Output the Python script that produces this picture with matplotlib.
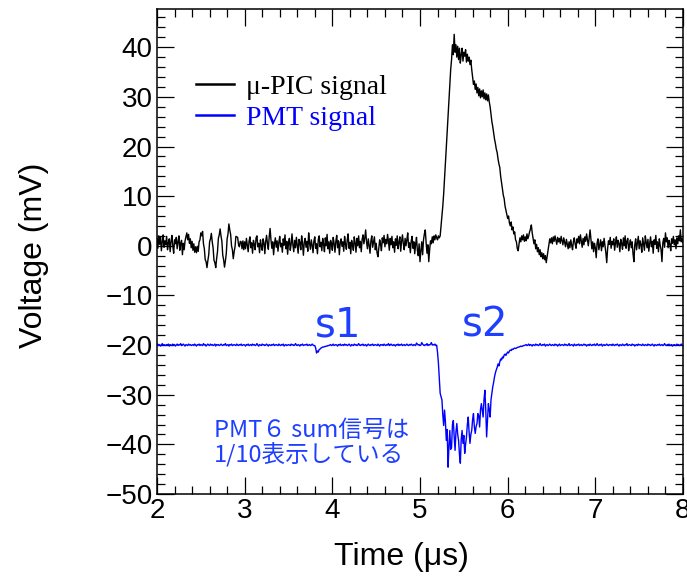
import numpy as np
import matplotlib
matplotlib.use("Agg")
import matplotlib.pyplot as plt
from matplotlib.ticker import MultipleLocator

# ---------------- data (mV), sampled every 0.01 us from 2.00 to 8.00 -------------
mupic_signal = [
    # 2.00-2.29
    1.5, -0.5, 2.0, 0.3, 1.8, -1.0, 0.8, 2.2, -0.3, 1.0,
    0.2, 1.9, -0.8, 0.6, 1.4, -1.2, 0.9, 2.1, 0.0, -1.5,
    1.2, 0.4, 1.7, -0.6, 0.8, 2.0, -0.9, 0.5, 1.1, -1.8,
    # 2.30-2.99
    0.5, -0.8, 1.0, 1.8, 2.6, 1.2, 2.3, 0.5, 1.4, -0.4,
    0.9, -0.9, 0.4, -1.3, -0.2, -1.4, -0.1, -1.1, 0.8, 1.2,
    2.6, 2.0, 2.9, 0.4, -0.6, -2.8, -3.2, -4.4, -3.0, -1.8,
    0.8, 1.4, 2.5, 0.8, -0.4, -2.9, -3.4, -4.4, -2.6, -1.2,
    1.5, 2.2, 3.4, 2.0, 0.9, -1.9, -2.8, -4.3, -3.1, -1.6,
    1.4, 2.4, 4.4, 3.2, 2.3, 0.0, -0.8, -2.6, -1.2, -0.2,
    1.9, 1.8, 1.7, 0.2, -0.2, 0.9, 0.8, -0.6, 1.0, -0.8,
    # 3.00-5.19
    0.8, -0.6, 1.5, 0.2, -1.2, 0.9, 1.8, -0.4, 0.6, -1.5,
    1.1, 0.3, -0.8, 1.6, 2.0, -0.2, 0.5, -1.4, 1.2, 0.0,
    -0.9, 1.4, 0.6, -1.6, 0.9, 2.1, 0.4, -0.7, 1.8, 3.5,
    1.2, -0.5, 0.8, -1.8, 0.4, 1.6, -0.3, 1.0, -1.1, 0.7,
    1.9, -0.2, 0.5, -1.3, 1.4, 0.1, 2.2, -0.6, 0.9, -1.7,
    0.6, 1.5, -0.9, 0.3, 2.4, 0.2, -1.2, 1.1, -0.4, 1.7,
    0.0, -1.5, 1.3, 0.7, -0.8, 2.0, 0.4, -1.9, 0.8, 1.5,
    -0.3, 0.9, -1.1, 2.6, 0.5, -0.7, 1.2, 0.1, -1.4, 1.0,
    1.8, -0.5, 0.4, -1.6, 1.3, 2.0, -0.2, 0.7, -1.0, 1.5,
    0.3, -1.2, 1.6, 0.0, 2.3, -0.6, 0.8, -1.5, 1.1, 0.4,
    -0.9, 1.7, 0.5, -1.3, 0.9, 2.1, -0.4, 1.0, -1.8, 0.6,
    1.4, -0.1, 0.8, -1.1, 1.9, 0.3, -0.7, 1.2, 2.4, -0.5,
    0.7, -1.6, 1.1, 0.2, -0.9, 1.8, 0.6, -1.3, 1.5, 0.0,
    2.0, -0.4, 0.9, -1.2, 1.3, 2.2, 0.4, 1.6, 3.2, 0.8,
    -0.6, 1.4, 0.1, -1.5, 1.0, 2.0, -0.3, 0.7, 1.8, -0.8,
    0.5, -1.4, -2.2, -0.6, 1.2, 0.3, -1.0, 1.6, 0.6, 2.1,
    -0.2, 1.3, 0.4, 2.3, 0.9, -0.9, 1.5, 0.2, 1.9, -0.4,
    0.8, -1.3, 1.4, 0.1, 2.0, -0.6, 0.7, 1.8, -1.1, 0.9,
    2.2, 0.4, -0.8, 1.5, 0.0, 1.2, 2.6, -0.3, 0.6, -1.4,
    1.0, 1.9, -0.5, 0.8, -1.6, 0.3, 1.7, -0.9, -2.0, 0.4,
    -3.2, -1.0, 0.8, -1.8, 1.2, 2.4, 3.2, 0.6, -1.5, 0.2,
    -3.2, -0.8, 1.0, 0.4, 1.8, 0.6, 2.0, 1.2, 2.2, 1.6,
    # 5.20-5.39
    1.2, 2.0, 1.6, 2.0, 4.0, 6.0, 8.0, 10.5, 13.5, 16.5,
    19.8, 23.0, 26.2, 29.5, 32.5, 35.5, 37.5, 40.5, 38.5, 42.6,
    # 5.40-5.99
    39.0, 40.5, 38.0, 40.2, 37.5, 39.8, 36.8, 38.5, 39.8, 37.2,
    39.0, 38.2, 39.5, 37.0, 38.6, 37.2, 38.0, 36.5, 37.4, 35.5,
    34.0, 32.5, 33.2, 31.5, 32.6, 30.8, 31.9, 30.2, 31.6, 29.8,
    31.2, 30.0, 31.4, 29.6, 30.8, 29.4, 30.6, 29.2, 30.4, 29.0,
    28.0, 26.5, 25.0, 24.0, 22.8, 21.5, 20.6, 19.5, 18.8, 17.5,
    16.5, 15.8, 14.0, 12.8, 11.5, 10.2, 9.5, 8.0, 7.2, 6.4,
    # 6.00-6.09
    5.5, 6.0, 4.6, 4.0, 4.8, 3.2, 3.8, 2.4, 2.8, 1.2,
    # 6.10-6.49
    0.8, -0.6, -1.0, 0.4, 1.6, 0.8, 2.0, 1.2, 2.2, 0.9,
    1.8, 1.0, 2.4, 1.4, 2.0, 2.8, 3.4, 4.2, 2.6, 1.5,
    0.4, 1.2, -0.6, 0.3, -1.2, -0.4, -1.8, -0.8, -2.2, -1.4,
    -2.6, -1.6, -2.8, -2.0, -3.4, -2.2, -1.0, 0.2, 1.4, 0.6,
    # 6.50-8.00
    1.6, 0.4, 1.8, 0.9, 2.0, 1.1, 0.3, 1.7, 0.8, 1.5,
    0.5, 1.9, 1.0, 0.2, 1.6, 0.7, -0.2, 1.3, 0.4, -0.6,
    0.8, -0.4, 1.2, 0.1, -0.8, 0.9, 1.6, 0.3, -0.5, 1.4,
    0.6, 1.9, 0.4, 2.2, 1.0, -0.3, 1.5, 0.2, 1.8, 0.9,
    2.4, 1.2, 0.0, 1.6, 3.2, 1.4, -0.6, 0.8, -1.2, 0.5,
    -0.4, -2.4, 0.6, 1.4, -0.8, 0.2, 1.2, -1.0, 0.8, -0.2,
    1.5, 0.1, -1.4, -3.4, -0.6, 1.0, 0.3, 1.7, -0.5, 0.9,
    0.2, 1.4, -0.9, 0.6, 1.8, -0.3, 1.1, 0.4, -1.2, 1.3,
    0.5, -0.7, 1.6, 0.0, 2.0, -0.5, 0.9, 1.5, -1.0, 0.3,
    1.2, -0.4, 0.8, -1.6, -3.2, 0.2, 1.4, -0.8, 0.6, 1.9,
    -0.6, 1.0, 0.2, -1.3, 1.6, 0.4, -0.9, 2.0, 0.7, -0.4,
    1.3, -1.1, 0.5, 1.8, -0.2, 0.9, -1.5, 1.2, 0.3, 2.1,
    -0.5, 0.8, -1.2, 1.4, 0.1, -0.8, -3.2, 0.6, 1.5, -0.3,
    2.6, 0.8, 1.6, -0.4, 1.1, 0.3, -1.0, 1.4, 0.5, 1.9,
    0.2, 1.2, -0.6, 1.6, 0.4, 2.0, 1.0, 3.2, 0.8, 1.5,
    0.6,
]

pmt_signal = [
    # 2.00-3.79
    -20.0, -19.8, -20.1, -19.9, -20.2, -20.0, -19.7, -20.1, -19.9, -20.0,
    -20.1, -19.9, -20.0, -19.8, -20.2, -19.9, -20.0, -20.1, -19.8, -20.0,
    -19.9, -20.2, -20.0, -19.8, -20.1, -19.9, -20.0, -19.7, -20.1, -20.0,
    -19.8, -20.0, -20.2, -19.9, -20.0, -20.1, -19.8, -20.0, -19.9, -20.1,
    -20.0, -19.9, -20.1, -19.8, -20.0, -20.2, -19.9, -20.0, -19.8, -20.1,
    -19.9, -20.0, -20.1, -19.7, -20.0, -19.9, -20.2, -20.0, -19.8, -20.0,
    -20.1, -19.8, -20.0, -19.9, -20.1, -20.0, -19.8, -20.2, -19.9, -20.0,
    -19.9, -20.1, -20.0, -19.8, -20.0, -20.1, -19.9, -20.0, -19.7, -20.1,
    -20.0, -19.9, -20.2, -19.9, -20.0, -19.8, -20.1, -20.0, -19.9, -20.0,
    -20.1, -19.8, -20.0, -20.1, -19.9, -20.0, -19.8, -20.1, -20.0, -19.9,
    -20.0, -20.2, -19.9, -20.0, -19.8, -20.1, -20.0, -19.9, -20.1, -19.8,
    -20.0, -19.9, -20.1, -20.0, -19.7, -20.0, -20.2, -19.9, -20.0, -20.1,
    -19.8, -20.0, -19.9, -20.1, -20.0, -19.8, -20.0, -20.2, -19.9, -20.0,
    -20.1, -19.9, -20.0, -19.8, -20.1, -20.0, -19.9, -20.0, -20.1, -19.8,
    -20.0, -20.1, -19.9, -20.0, -19.8, -20.2, -20.0, -19.9, -20.1, -20.0,
    -19.9, -20.0, -20.1, -19.8, -20.0, -19.9, -20.1, -20.0, -19.7, -20.0,
    -20.1, -19.9, -20.0, -20.2, -19.9, -20.0, -19.8, -20.1, -20.0, -19.9,
    -20.0, -19.8, -20.1, -20.0, -19.9, -20.1, -20.0, -19.8, -20.0, -20.1,
    # 3.80-3.95 (s1)
    -20.1, -20.6, -21.6, -21.2, -21.4, -20.9, -20.8, -20.6, -20.5, -20.4,
    -20.4, -20.3, -20.3, -20.2, -20.2, -20.1,
    # 3.96-5.18
    -20.1, -20.0, -19.9, -20.1, -20.0, -19.8, -20.1, -20.0, -19.9, -20.0,
    -20.2, -19.9, -20.0, -19.8, -20.1, -20.0, -19.9, -20.1, -19.8, -20.0,
    -19.9, -20.1, -20.0, -19.8, -20.0, -20.2, -19.9, -20.0, -20.1, -19.8,
    -20.0, -19.9, -20.1, -20.0, -19.7, -20.0, -20.1, -19.9, -20.0, -19.8,
    -20.1, -20.0, -19.9, -20.2, -20.0, -19.8, -20.0, -20.1, -19.9, -20.0,
    -19.8, -20.1, -20.0, -19.9, -20.0, -20.1, -19.8, -20.0, -20.2, -19.9,
    -20.0, -19.9, -20.1, -19.8, -20.0, -20.1, -19.9, -20.0, -19.7, -20.1,
    -20.0, -19.8, -20.0, -20.1, -19.9, -20.0, -20.2, -19.9, -20.0, -19.8,
    -20.1, -19.9, -20.0, -19.8, -20.1, -20.0, -19.9, -20.1, -20.0, -19.8,
    -20.0, -20.1, -19.9, -20.0, -19.8, -20.0, -20.1, -19.9, -20.0, -20.1,
    -19.6, -19.8, -20.0, -19.9, -20.1, -20.0, -19.5, -19.8, -20.0, -20.1,
    -19.9, -20.0, -19.7, -20.1, -19.9, -20.0, -19.8, -19.5, -20.0, -19.9,
    -20.0, -19.8, -20.1,
    # 5.19-6.20 (s2)
    -20.0, -21.5, -23.6, -26.5, -29.7, -30.4, -31.0, -34.0, -36.2, -33.1,
    -35.5, -39.2, -37.0, -44.6, -40.5, -37.2, -41.0, -40.6, -36.0, -35.2,
    -38.5, -41.2, -37.5, -35.8, -38.0, -39.2, -42.0, -43.8, -39.0, -37.2,
    -39.8, -38.2, -41.8, -40.0, -38.5, -36.0, -34.5, -37.5, -39.8, -38.0,
    -37.2, -35.0, -33.8, -36.5, -37.8, -36.4, -35.8, -33.8, -34.2, -36.5,
    -33.0, -31.8, -33.2, -34.5, -31.0, -29.1, -33.0, -38.5, -35.0, -31.8,
    -33.0, -34.5, -31.0, -29.7, -28.4, -27.5, -26.4, -25.6, -25.0, -24.5,
    -23.8, -24.2, -23.4, -22.8, -23.0, -22.4, -22.6, -22.0, -21.8, -22.1,
    -21.7, -21.4, -21.6, -21.2, -21.0, -21.1, -20.8, -20.9, -20.7, -20.6,
    -20.7, -20.6, -20.5, -20.4, -20.4, -20.3, -20.2, -20.3, -20.2, -20.1,
    -20.1, -20.0,
    # 6.21-8.00
    -19.9, -20.1, -20.0, -19.8, -20.1, -19.9, -20.0, -20.2, -19.9, -20.0,
    -20.1, -19.8, -20.0, -19.9, -20.1, -20.0, -19.7, -20.0, -20.1, -19.9,
    -20.0, -19.8, -20.2, -20.0, -19.9, -20.1, -20.0, -19.8, -20.0, -20.1,
    -19.9, -20.0, -20.1, -19.8, -20.0, -19.9, -20.2, -20.0, -19.8, -20.1,
    -20.0, -19.9, -20.0, -20.1, -19.8, -20.0, -19.9, -20.1, -20.0, -19.7,
    -20.1, -20.0, -19.9, -20.0, -20.2, -19.8, -20.0, -20.1, -19.9, -20.0,
    -19.8, -20.1, -20.0, -19.9, -20.1, -20.0, -19.8, -20.0, -19.9, -20.2,
    -20.0, -19.9, -20.1, -19.8, -20.0, -20.1, -19.9, -20.0, -19.8, -20.1,
    -20.0, -19.7, -20.0, -20.1, -19.9, -20.0, -19.8, -20.2, -20.0, -19.9,
    -20.1, -20.0, -19.8, -20.0, -20.1, -19.9, -20.0, -19.9, -20.1, -19.8,
    -20.0, -20.1, -19.9, -20.0, -19.8, -20.0, -20.2, -19.9, -20.0, -20.1,
    -19.8, -20.0, -20.1, -19.9, -20.0, -19.7, -20.1, -20.0, -19.9, -20.0,
    -20.1, -19.8, -20.0, -19.9, -20.2, -20.0, -19.9, -20.1, -19.8, -20.0,
    -19.9, -20.0, -20.1, -19.8, -20.0, -20.1, -19.9, -20.0, -20.1, -19.8,
    -20.0, -19.9, -20.1, -20.0, -19.8, -20.0, -20.2, -19.9, -20.0, -20.1,
    -19.9, -20.0, -19.8, -20.1, -20.0, -19.9, -20.1, -20.0, -19.7, -20.0,
    -20.1, -19.9, -20.0, -19.8, -20.1, -20.0, -19.9, -20.2, -20.0, -19.9,
    -20.0, -20.1, -19.8, -20.0, -19.9, -20.1, -20.0, -19.8, -20.0, -20.1,
]

t_start, t_end = 2.0, 8.0
legend_labels = ["μ-PIC signal", "PMT signal"]
x_label = "Time (μs)"
y_label = "Voltage (mV)"
peak_labels = ["s1", "s2"]
peak_label_x = [3.80, 5.476]
peak_label_y = -18.3
note_text = "PMT６ sum信号は\n1/10表示している"

t_mupic = np.linspace(t_start, t_end, len(mupic_signal))
t_pmt = np.linspace(t_start, t_end, len(pmt_signal))

# ---------------- figure ----------------
fig = plt.figure(figsize=(6.87, 5.76), dpi=100)
ax = fig.add_axes([157 / 687, 82 / 576, 526 / 687, 485 / 576])

ax.plot(t_mupic, mupic_signal, color="black", lw=1.0, label=legend_labels[0])
ax.plot(t_pmt, pmt_signal, color="#0000ff", lw=1.0, label=legend_labels[1])

ax.set_xlim(t_start, t_end)
ax.set_ylim(-50, 47.7)
ax.xaxis.set_major_locator(MultipleLocator(1))
ax.xaxis.set_minor_locator(MultipleLocator(0.2))
ax.yaxis.set_major_locator(MultipleLocator(10))
ax.yaxis.set_minor_locator(MultipleLocator(2))
ax.tick_params(which="both", direction="in", top=True, right=True, width=0.9)
ax.tick_params(which="major", length=12, labelsize=20, pad=3)
ax.tick_params(which="minor", length=6)
for lab in ax.get_xticklabels() + ax.get_yticklabels():
    lab.set_fontfamily("Liberation Sans")
for sp in ax.spines.values():
    sp.set_linewidth(1.1)

ax.set_xlabel(x_label, fontsize=23, family="Liberation Sans")
ax.set_ylabel(y_label, fontsize=23, family="Liberation Sans")
ax.xaxis.set_label_coords(0.464, -0.100)
ax.yaxis.set_label_coords(-0.205, 0.493)

leg = ax.legend(loc="upper left", bbox_to_anchor=(0.075, 0.865), frameon=False,
                prop={"family": "Liberation Serif", "size": 20},
                handlelength=1.35, handletextpad=0.45, labelspacing=0.2,
                borderpad=0, borderaxespad=0, labelcolor="linecolor")
for h in leg.get_lines():
    h.set_linewidth(1.8)

text_blue = "#1f3fff"
for lbl, xp in zip(peak_labels, peak_label_x):
    ax.text(xp, peak_label_y, lbl, fontsize=29, color=text_blue,
            family="DejaVu Sans", ha="left", va="baseline")

ax.text(2.65, -43.6, note_text, fontsize=17, color=text_blue,
        family=["Noto Sans CJK JP", "DejaVu Sans"], ha="left", va="baseline",
        linespacing=1.05)

fig.savefig("out.png", dpi=100)
